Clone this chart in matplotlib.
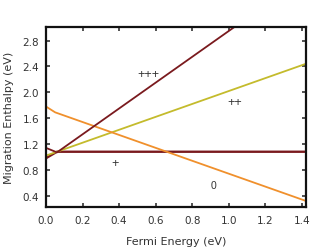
import matplotlib
matplotlib.use("Agg")
import matplotlib.pyplot as plt

plt.rcParams['font.family'] = ['DejaVu Sans']

# Data (Fermi energy, migration enthalpy)
x_ppp = [0.0, 0.06, 1.42]
y_ppp = [1.14, 1.07, 3.79]
x_p = [0.0, 0.06, 1.42]
y_p = [0.98, 1.08, 1.08]
x_pp = [0.0, 1.42]
y_pp = [1.02, 2.44]
x_0 = [0.0, 0.05, 1.42]
y_0 = [1.78, 1.69, 0.32]

xticks = [0.0, 0.2, 0.4, 0.6, 0.8, 1.0, 1.2, 1.4]
yticks = [0.4, 0.8, 1.2, 1.6, 2.0, 2.4, 2.8]

labels = ["+++", "++", "+", "0"]
label_pos = [(0.56, 2.28), (1.035, 1.85), (0.38, 0.9), (0.915, 0.56)]
label_size = [9, 9, 9, 7.5]

fig = plt.figure(figsize=(3.21, 2.53), dpi=100)
ax = fig.add_axes([0.1433, 0.178, 0.8087, 0.711])

dark = '#7a1a1e'
ax.plot(x_p, y_p, color=dark, lw=1.7, solid_capstyle='butt')
ax.plot(x_pp, y_pp, color='#c4bb2c', lw=1.3)
ax.plot(x_0, y_0, color='#f0902c', lw=1.3)
ax.plot(x_ppp, y_ppp, color=dark, lw=1.3)

for t, (lx, ly), fs in zip(labels, label_pos, label_size):
    ax.text(lx, ly, t, fontsize=fs, ha='center', va='center', color='#333333',
            family='Liberation Sans')

ax.set_xlim(0.0, 1.42)
ax.set_ylim(0.225, 3.01)
ax.set_xticks(xticks)
ax.set_yticks(yticks)
ax.set_xticklabels([f"{v:.1f}" for v in xticks])
ax.set_yticklabels([f"{v:.1f}" for v in yticks])
ax.tick_params(direction='in', length=3, width=1.2, top=True, right=True,
               labelsize=7.5, colors='#333333')
ax.tick_params(axis='x', pad=6)
ax.tick_params(axis='y', pad=5)
for s in ax.spines.values():
    s.set_linewidth(1.6)
    s.set_color('#111111')

ax.set_xlabel("Fermi Energy (eV)", fontsize=8, labelpad=8, color='#333333')
ax.set_ylabel("Migration Enthalpy (eV)", fontsize=8, labelpad=6, color='#333333')

fig.savefig("out.png", dpi=100)
